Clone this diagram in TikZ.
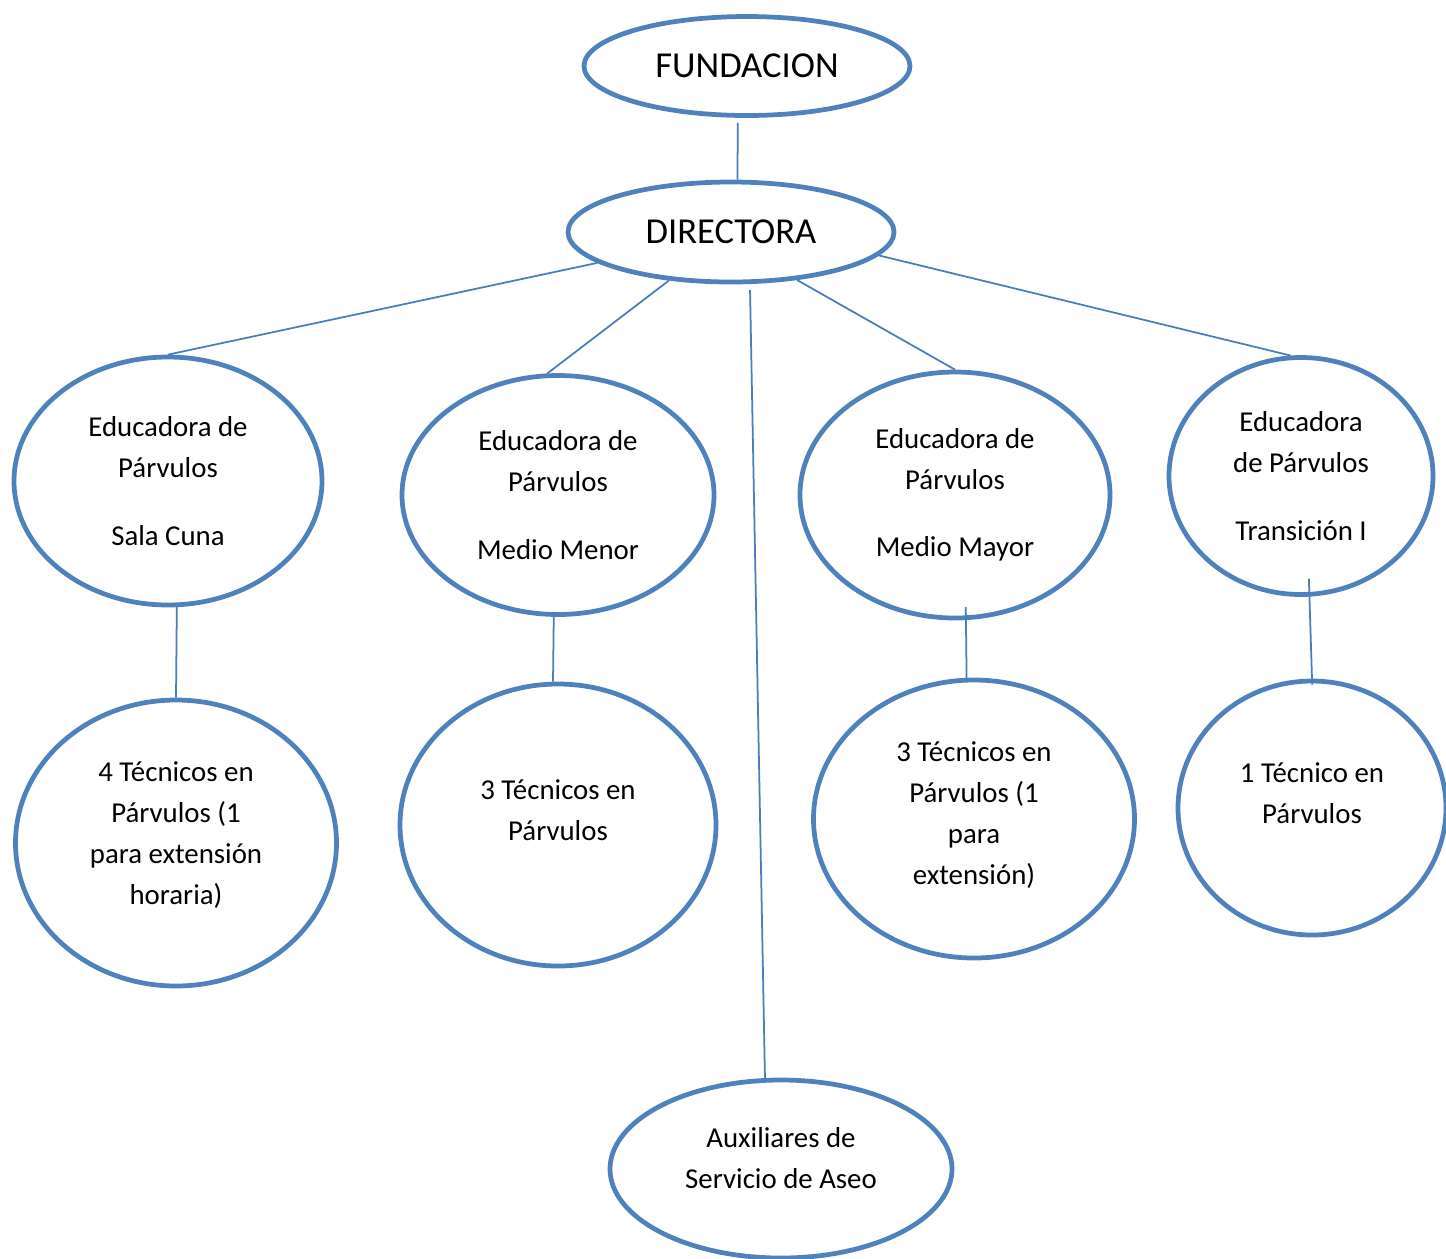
\documentclass[tikz,border=0pt]{standalone}
\usepackage{fontspec}
\setmainfont{Carlito}
\usepackage{tikz}
\usetikzlibrary{shapes.geometric}

\definecolor{orgblue}{HTML}{4F81BD}
\definecolor{linkblue}{HTML}{4A7EBB}

\tikzset{
  oval/.style={ellipse, draw=orgblue, line width=1.35pt, fill=white, inner sep=0pt, align=center,
    font=\fontsize{8.2pt}{11.7pt}\selectfont},
  topoval/.style={oval, font=\fontsize{10.4pt}{12.5pt}\selectfont},
  link/.style={draw=linkblue, line width=0.5pt}
}

\begin{document}
\begin{tikzpicture}
\useasboundingbox (0,0) rectangle (14.46,-12.58);

\node[topoval, minimum width=3.26cm, minimum height=0.99cm] (fund) at (7.47,-0.66) {FUNDACION};
\node[topoval, minimum width=3.26cm, minimum height=1.00cm] (dir) at (7.31,-2.32) {DIRECTORA};

\node[oval, minimum width=3.08cm, minimum height=2.48cm] (ed1) at (1.68,-4.81) {Educadora de\\Párvulos\\[7.4pt]Sala Cuna};
\node[oval, minimum width=3.12cm, minimum height=2.39cm] (ed2) at (5.58,-4.95) {Educadora de\\Párvulos\\[7.4pt]Medio Menor};
\node[oval, minimum width=3.10cm, minimum height=2.46cm] (ed3) at (9.55,-4.95) {Educadora de\\Párvulos\\[7.4pt]Medio Mayor};
\node[oval, minimum width=2.64cm, minimum height=2.37cm] (ed4) at (13.01,-4.76) {Educadora\\de Párvulos\\[7.4pt]Transición I};

\node[oval, minimum width=3.21cm, minimum height=2.86cm, text depth=0.2cm] (tec1) at (1.76,-8.43) {4 Técnicos en\\Párvulos (1\\para extensión\\horaria)};
\node[oval, minimum width=3.16cm, minimum height=2.82cm, text depth=0.3cm] (tec2) at (5.58,-8.25) {3 Técnicos en\\Párvulos};
\node[oval, minimum width=3.21cm, minimum height=2.78cm, text depth=0.12cm] (tec3) at (9.74,-8.19) {3 Técnicos en\\Párvulos (1\\para\\extensión)};
\node[oval, minimum width=2.68cm, minimum height=2.54cm, text depth=0.3cm] (tec4) at (13.12,-8.08) {1 Técnico en\\Párvulos};

\node[oval, minimum width=3.42cm, minimum height=1.78cm, text depth=0.22cm] (aux) at (7.81,-11.69) {Auxiliares de\\Servicio de Aseo};

\draw[link, shorten <=0.05cm] (fund.260) -- (dir.83);
\draw[link] (dir.193) -- (ed1.north);
\draw[link] (dir.218) -- (ed2.95);
\draw[link, shorten <=0.06cm] (dir.-70) -- (aux.100);
\draw[link] (dir.-36) -- (ed3.north);
\draw[link] (dir.-9) -- (ed4.95);

\draw[link] (ed1.-86) -- (tec1.north);
\draw[link, shorten <=-0.05cm] (ed2.-92) -- (tec2.92);
\draw[link, shorten <=-0.13cm] (ed3.-85) -- (tec3.93);
\draw[link, shorten <=-0.18cm, shorten >=-0.06cm] (ed4.-86) -- (tec4.north);
\end{tikzpicture}
\end{document}
